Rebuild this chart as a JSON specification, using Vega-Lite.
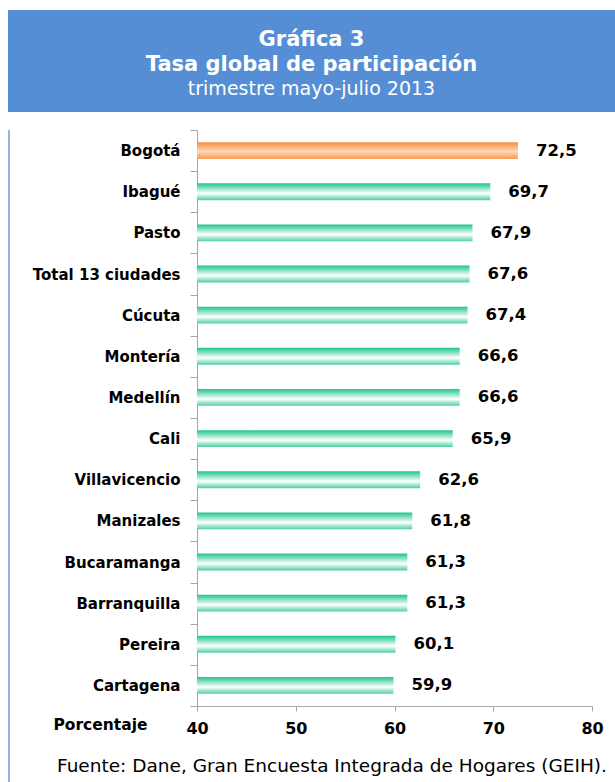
{
  "$schema": "https://vega.github.io/schema/vega-lite/v6.json",
  "padding": {"left": 8, "top": 10, "right": 0, "bottom": 0},
  "background": "white",
  "spacing": 11,
  "config": {
    "font": "DejaVu Sans",
    "view": {"stroke": null},
    "locale": {"number": {"decimal": ",", "thousands": ".", "grouping": [3], "currency": ["$", ""]}}
  },
  "vconcat": [
    {
      "width": 607,
      "height": 102,
      "view": {"fill": "#558ED5", "stroke": null},
      "data": {"values": [
        {"line": 1, "text": "Gráfica 3"},
        {"line": 2, "text": "Tasa global de participación"},
        {"line": 3, "text": "trimestre  mayo-julio 2013"}
      ]},
      "encoding": {
        "y": {"field": "line", "type": "ordinal", "scale": {"type": "point", "range": [36, 85], "padding": 0}, "axis": null},
        "text": {"field": "text", "type": "nominal"}
      },
      "layer": [
        {"transform": [{"filter": "datum.line < 3"}], "mark": {"type": "text", "fontSize": 21, "fontWeight": "bold", "color": "white", "baseline": "alphabetic", "align": "center"}},
        {"transform": [{"filter": "datum.line == 3"}], "mark": {"type": "text", "fontSize": 19, "fontWeight": "normal", "color": "white", "baseline": "alphabetic", "align": "center"}}
      ]
    },
    {
      "hconcat": [
        {
          "width": 2,
          "height": 680,
          "view": {"fill": "#8DB4E2", "stroke": null},
          "data": {"values": []},
          "mark": "rect",
          "encoding": {}
        },
        {
          "width": 395,
          "height": 576,
          "title": {"text": "Fuente: Dane, Gran Encuesta Integrada de Hogares (GEIH).", "orient": "bottom", "anchor": "start", "frame": "group", "dx": -140, "offset": 21, "fontSize": 18.5, "fontWeight": "normal", "color": "black", "font": "DejaVu Sans"},
          "data": {"values": [
            {"ciudad": "Bogotá", "valor": 72.5},
            {"ciudad": "Ibagué", "valor": 69.7},
            {"ciudad": "Pasto", "valor": 67.9},
            {"ciudad": "Total 13 ciudades", "valor": 67.6},
            {"ciudad": "Cúcuta", "valor": 67.4},
            {"ciudad": "Montería", "valor": 66.6},
            {"ciudad": "Medellín", "valor": 66.6},
            {"ciudad": "Cali", "valor": 65.9},
            {"ciudad": "Villavicencio", "valor": 62.6},
            {"ciudad": "Manizales", "valor": 61.8},
            {"ciudad": "Bucaramanga", "valor": 61.3},
            {"ciudad": "Barranquilla", "valor": 61.3},
            {"ciudad": "Pereira", "valor": 60.1},
            {"ciudad": "Cartagena", "valor": 59.9}
          ]},
          "encoding": {
            "y": {"field": "ciudad", "type": "nominal", "sort": null,
              "scale": {"paddingInner": 0, "paddingOuter": 0},
              "axis": {"title": null, "tickBand": "extent", "domainColor": "#A6A6A6", "tickColor": "#A6A6A6", "tickSize": 7, "labelPadding": 10, "labelFontSize": 15, "labelFontWeight": "bold", "labelColor": "black", "grid": false, "labelLimit": 300}},
            "x": {"field": "valor", "type": "quantitative", "scale": {"domain": [40, 80], "zero": false},
              "axis": {"values": [40, 50, 60, 70, 80], "grid": false, "domainColor": "#A6A6A6", "tickColor": "#A6A6A6", "tickSize": 5, "labelPadding": 9, "labelFontSize": 16, "labelFontWeight": "bold", "labelColor": "black", "labelFlush": false,
                "title": "Porcentaje", "titleFontSize": 15.5, "titleFontWeight": "bold", "titleColor": "black", "titleX": -97, "titleY": 23, "titleAlign": "center", "titleBaseline": "alphabetic", "titleAnchor": null}}
          },
          "layer": [
            {
              "mark": {"type": "bar", "height": {"band": 0.41}, "stack": null},
              "encoding": {
                "x": {"field": "valor", "type": "quantitative", "stack": null},
                "color": {
                  "condition": {"test": "datum.ciudad === 'Bogotá'", "value": {"gradient": "linear", "x1": 0, "y1": 0, "x2": 0, "y2": 1, "stops": [{"offset": 0, "color": "#F78B38"}, {"offset": 0.55, "color": "#FCD9BC"}, {"offset": 1, "color": "#F79A4F"}]}},
                  "value": {"gradient": "linear", "x1": 0, "y1": 0, "x2": 0, "y2": 1, "stops": [{"offset": 0, "color": "#1CC688"}, {"offset": 0.6, "color": "#FFFFFF"}, {"offset": 1, "color": "#4ECF9C"}]}
                }
              }
            },
            {
              "mark": {"type": "text", "align": "left", "baseline": "middle", "dx": 18, "fontSize": 16.5, "fontWeight": "bold", "color": "black"},
              "encoding": {"text": {"field": "valor", "type": "quantitative", "format": ".1f"}}
            }
          ]
        }
      ],
      "spacing": 22
    }
  ]
}
